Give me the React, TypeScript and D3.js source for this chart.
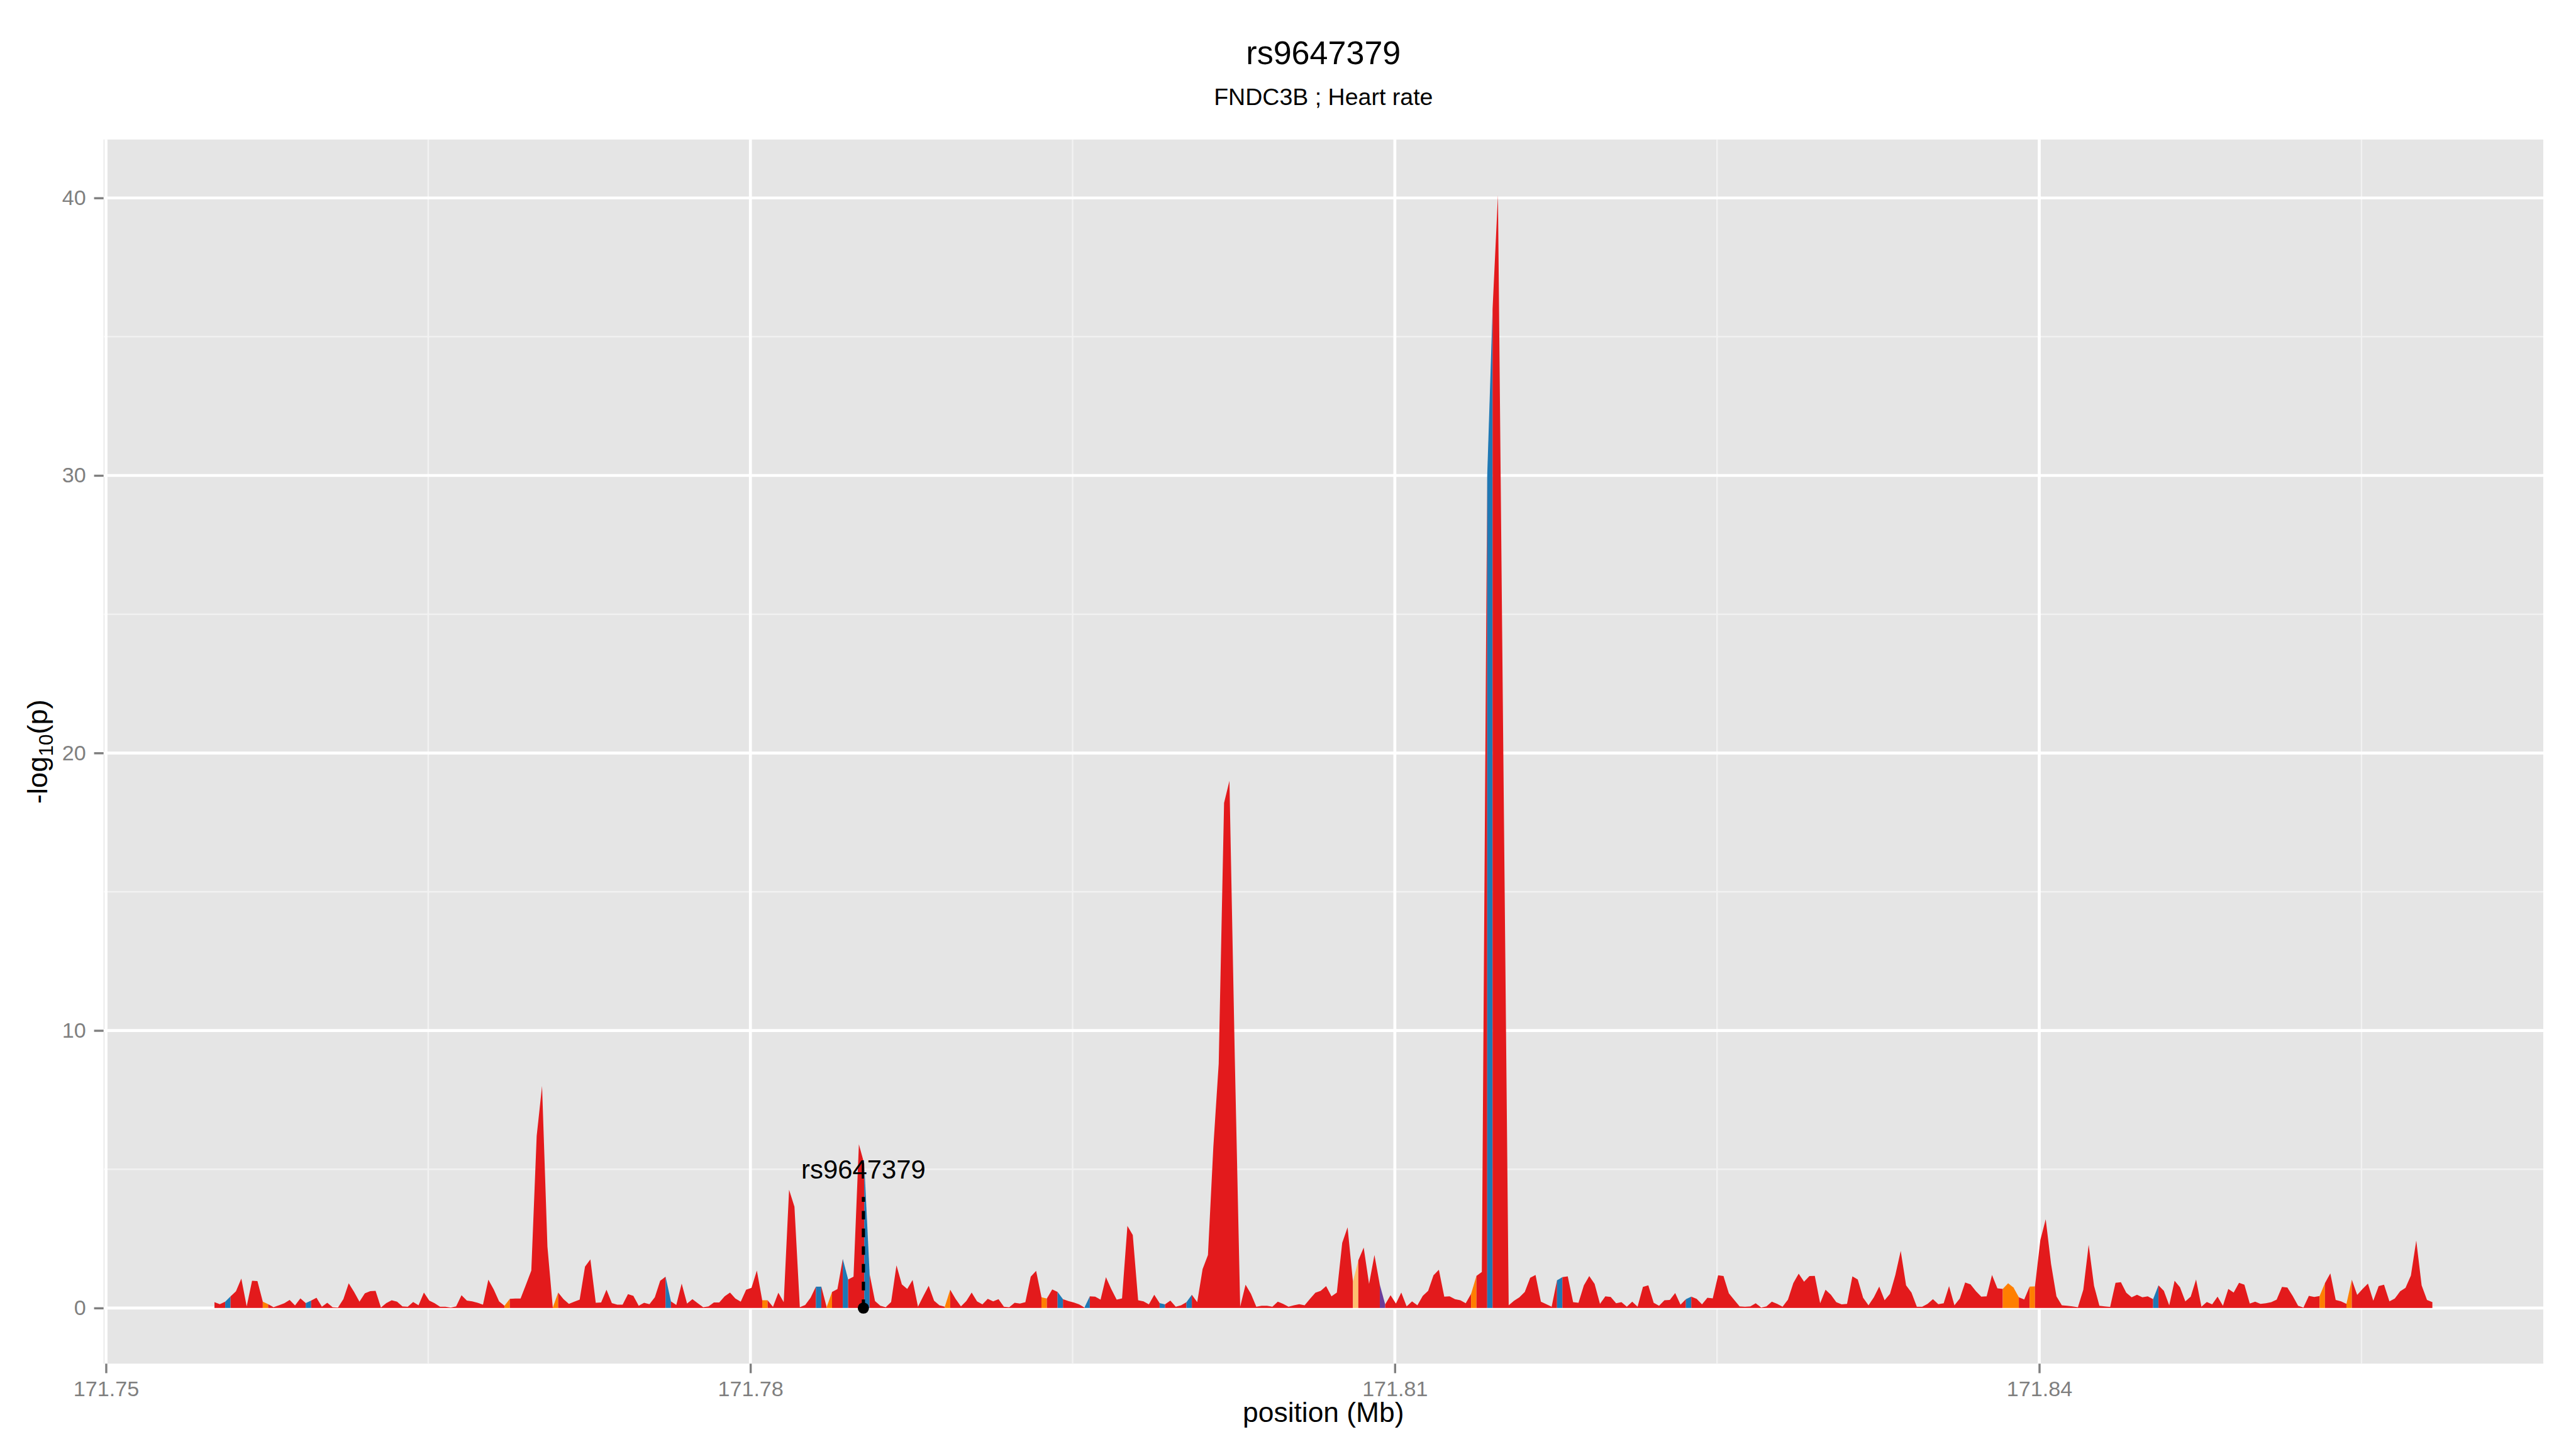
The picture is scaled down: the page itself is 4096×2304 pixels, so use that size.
import React, { useRef, useEffect } from 'react';
import * as d3 from 'd3';

// bins of 250 bp, first bin at 171.75505 Mb
const binStart = 171.75505;
const binStep = 0.00025;

// -log10(p) per bin
const values = [
  0.21, 0.14, 0.23, 0.42, 0.60, 1.06, 0.06, 0.98, 0.97, 0.23,
  0.14, 0.03, 0.10, 0.17, 0.29, 0.09, 0.35, 0.18, 0.27, 0.37,
  0.05, 0.19, 0.03, 0.02, 0.32, 0.89, 0.58, 0.23, 0.53, 0.61,
  0.62, 0.02, 0.18, 0.28, 0.23, 0.06, 0.05, 0.22, 0.10, 0.56,
  0.27, 0.17, 0.05, 0.05, 0.02, 0.06, 0.46, 0.27, 0.24, 0.19,
  0.12, 1.02, 0.67, 0.24, 0.08, 0.33, 0.34, 0.34, 0.84, 1.35,
  6.2, 8.0, 2.22, 0.02, 0.56, 0.32, 0.15, 0.23, 0.30, 1.49,
  1.75, 0.19, 0.20, 0.66, 0.18, 0.12, 0.12, 0.50, 0.44, 0.08,
  0.19, 0.14, 0.39, 0.98, 1.13, 0.24, 0.11, 0.88, 0.16, 0.32,
  0.17, 0.03, 0.06, 0.20, 0.20, 0.42, 0.56, 0.34, 0.23, 0.66,
  0.73, 1.35, 0.28, 0.28, 0.04, 0.55, 0.21, 4.26, 3.65, 0.03,
  0.11, 0.37, 0.77, 0.77, 0.03, 0.58, 0.68, 1.77, 1.03, 1.13,
  5.9, 5.2, 1.22, 0.25, 0.08, 0.03, 0.22, 1.54, 0.85, 0.69,
  1.01, 0.05, 0.43, 0.80, 0.26, 0.10, 0.05, 0.66, 0.33, 0.06,
  0.25, 0.56, 0.24, 0.13, 0.33, 0.24, 0.32, 0.05, 0.03, 0.19,
  0.16, 0.21, 1.13, 1.34, 0.39, 0.34, 0.67, 0.58, 0.32, 0.25,
  0.20, 0.13, 0.02, 0.42, 0.41, 0.30, 1.11, 0.68, 0.30, 0.35,
  2.96, 2.63, 0.28, 0.24, 0.13, 0.48, 0.18, 0.13, 0.27, 0.05,
  0.10, 0.21, 0.48, 0.21, 1.40, 1.91, 5.8, 8.8, 18.2, 19.0,
  9.0, 0.05, 0.84, 0.51, 0.05, 0.08, 0.08, 0.05, 0.23, 0.15,
  0.05, 0.10, 0.14, 0.10, 0.33, 0.55, 0.62, 0.79, 0.42, 0.56,
  2.35, 2.91, 0.95, 1.72, 2.18, 0.87, 1.91, 0.84, 0.13, 0.46,
  0.16, 0.56, 0.06, 0.24, 0.10, 0.44, 0.62, 1.18, 1.38, 0.41,
  0.42, 0.32, 0.28, 0.17, 0.51, 1.16, 1.30, 30, 36, 40.1,
  20, 0.10, 0.26, 0.39, 0.58, 1.09, 1.19, 0.23, 0.14, 0.05,
  1.00, 1.11, 1.14, 0.21, 0.19, 0.82, 1.15, 0.87, 0.15, 0.42,
  0.40, 0.17, 0.21, 0.05, 0.23, 0.05, 0.76, 0.82, 0.19, 0.08,
  0.28, 0.29, 0.54, 0.12, 0.32, 0.41, 0.33, 0.13, 0.37, 0.35,
  1.18, 1.15, 0.53, 0.29, 0.06, 0.05, 0.06, 0.17, 0.02, 0.06,
  0.23, 0.15, 0.05, 0.30, 0.90, 1.24, 0.95, 1.15, 1.16, 0.17,
  0.66, 0.48, 0.21, 0.13, 0.15, 1.14, 1.03, 0.37, 0.10, 0.39,
  0.77, 0.28, 0.51, 1.19, 2.06, 0.82, 0.56, 0.05, 0.05, 0.15,
  0.32, 0.14, 0.17, 0.79, 0.10, 0.34, 0.92, 0.85, 0.61, 0.41,
  0.42, 1.19, 0.71, 0.69, 0.89, 0.74, 0.39, 0.31, 0.77, 0.78,
  2.45, 3.20, 1.58, 0.42, 0.10, 0.08, 0.06, 0.03, 0.66, 2.28,
  0.80, 0.08, 0.06, 0.04, 0.91, 0.93, 0.55, 0.39, 0.48, 0.39,
  0.42, 0.32, 0.82, 0.62, 0.10, 0.98, 0.75, 0.24, 0.41, 1.03,
  0.05, 0.22, 0.13, 0.41, 0.08, 0.69, 0.56, 0.91, 0.84, 0.16,
  0.23, 0.15, 0.17, 0.21, 0.30, 0.76, 0.74, 0.43, 0.08, 0.02,
  0.44, 0.40, 0.43, 0.90, 1.25, 0.29, 0.24, 0.15, 1.02, 0.47,
  0.69, 0.88, 0.26, 0.79, 0.84, 0.24, 0.34, 0.60, 0.73, 1.17,
  2.43, 0.82, 0.29, 0.21
];

// which bins (interval i -> i+1) are not red
const blueBins = [2, 17, 84, 112, 117, 121, 157, 162, 176, 181, 237, 250, 274, 361];
const orangeBins = [9, 54, 63, 102, 114, 136, 154, 234, 333, 334, 335, 338, 392, 397];
const lightOrangeBins = [212];
const purpleBins = [217];

const colors: Record<string, string> = {
  red: '#E31A1C',
  blue: '#1F78B4',
  orange: '#FF7F00',
  lightOrange: '#FDBF6F',
  purple: '#6A3D9A'
};

const xTicks = [171.75, 171.78, 171.81, 171.84];
const xMinor = [171.765, 171.795, 171.825, 171.855];
const yTicks = [0, 10, 20, 30, 40];
const yMinor = [5, 15, 25, 35];

const title = 'rs9647379';
const subtitle = 'FNDC3B ; Heart rate';
const snpName = 'rs9647379';
const snpPos = 171.78526;
const snpLineTop = 4;
const snpLabelY = 5;

const font = '"Liberation Sans", Arial, Helvetica, sans-serif';

const Chart = () => {
  const ref = useRef<HTMLDivElement>(null);

  useEffect(() => {
    var W = 4800, H = 2700;
    var left = 193, right = 4739, top = 260, bottom = 2541;

    d3.select(ref.current).select('svg').remove();
    var svg = d3.select(ref.current).append('svg')
      .attr('width', 4096).attr('height', 2304)
      .attr('viewBox', `0 0 ${W} ${H}`)
      .style('display', 'block')
      .style('background', '#ffffff')
      .style('font-family', font);

    var positions = values.map((v, i) => binStart + i * binStep);
    var ext = d3.extent(positions) as [number, number];
    var padX = (ext[1] - ext[0]) * 0.05;
    var yMax = d3.max(values) as number;

    var x = d3.scaleLinear().domain([ext[0] - padX, ext[1] + padX]).range([left, right]);
    var y = d3.scaleLinear().domain([-0.05 * yMax, 1.05 * yMax]).range([bottom, top]);

    // panel
    svg.append('rect').attr('x', left).attr('y', top)
      .attr('width', right - left).attr('height', bottom - top).attr('fill', '#E5E5E5');

    var grid = svg.append('g');
    grid.selectAll('.vmin').data(xMinor).enter().append('line')
      .attr('x1', d => x(d)).attr('x2', d => x(d)).attr('y1', top).attr('y2', bottom)
      .attr('stroke', '#F2F2F2').attr('stroke-width', 2.8);
    grid.selectAll('.hmin').data(yMinor).enter().append('line')
      .attr('x1', left).attr('x2', right).attr('y1', d => y(d)).attr('y2', d => y(d))
      .attr('stroke', '#F2F2F2').attr('stroke-width', 2.8);
    grid.selectAll('.vmaj').data(xTicks).enter().append('line')
      .attr('x1', d => x(d)).attr('x2', d => x(d)).attr('y1', top).attr('y2', bottom)
      .attr('stroke', '#ffffff').attr('stroke-width', 5.5);
    grid.selectAll('.hmaj').data(yTicks).enter().append('line')
      .attr('x1', left).attr('x2', right).attr('y1', d => y(d)).attr('y2', d => y(d))
      .attr('stroke', '#ffffff').attr('stroke-width', 5.5);

    // colour of each interval, then merge into runs
    var cat = d3.range(values.length - 1).map(i =>
      blueBins.includes(i) ? 'blue'
        : orangeBins.includes(i) ? 'orange'
        : lightOrangeBins.includes(i) ? 'lightOrange'
        : purpleBins.includes(i) ? 'purple' : 'red');
    var runs: { a: number, b: number, c: string }[] = [];
    cat.forEach((c, i) => {
      var last = runs[runs.length - 1];
      if (last && last.c === c) last.b = i + 1;
      else runs.push({ a: i, b: i + 1, c: c });
    });

    var area = d3.area<number>()
      .x(i => x(positions[i]))
      .y0(y(0))
      .y1(i => y(values[i]));

    svg.append('g').selectAll('path').data(runs).enter().append('path')
      .attr('d', r => area(d3.range(r.a, r.b + 1)))
      .attr('fill', r => colors[r.c]);

    // highlighted snp
    svg.append('line')
      .attr('x1', x(snpPos)).attr('x2', x(snpPos))
      .attr('y1', y(0)).attr('y2', y(snpLineTop))
      .attr('stroke', '#000').attr('stroke-width', 6)
      .attr('stroke-dasharray', '16 17');
    svg.append('circle').attr('cx', x(snpPos)).attr('cy', y(0)).attr('r', 10.5).attr('fill', '#000');
    svg.append('text').attr('x', x(snpPos)).attr('y', y(snpLabelY))
      .attr('dy', '0.35em').attr('text-anchor', 'middle')
      .attr('font-size', 49).attr('fill', '#000').text(snpName);

    // axes
    var xAxis = d3.axisBottom(x).tickValues(xTicks).tickSize(17.7).tickPadding(15)
      .tickFormat(d3.format('.2f'));
    var gx = svg.append('g').attr('transform', `translate(0,${bottom})`).call(xAxis);
    gx.select('.domain').remove();
    gx.attr('font-size', 40).attr('font-family', font);
    gx.selectAll('line').attr('stroke', '#7F7F7F').attr('stroke-width', 4);
    gx.selectAll('text').attr('fill', '#7F7F7F');

    var yAxis = d3.axisLeft(y).tickValues(yTicks).tickSize(17.7).tickPadding(15);
    var gy = svg.append('g').attr('transform', `translate(${left},0)`).call(yAxis);
    gy.select('.domain').remove();
    gy.attr('font-size', 40).attr('font-family', font);
    gy.selectAll('line').attr('stroke', '#7F7F7F').attr('stroke-width', 4);
    gy.selectAll('text').attr('fill', '#7F7F7F');

    // titles
    var cx = (left + right) / 2;
    svg.append('text').attr('x', cx).attr('y', 119).attr('text-anchor', 'middle')
      .attr('font-size', 61).attr('fill', '#000').text(title);
    svg.append('text').attr('x', cx).attr('y', 196).attr('text-anchor', 'middle')
      .attr('font-size', 44).attr('fill', '#000').text(subtitle);
    svg.append('text').attr('x', cx).attr('y', 2650).attr('text-anchor', 'middle')
      .attr('font-size', 52).attr('fill', '#000').text('position (Mb)');

    var yl = svg.append('text')
      .attr('transform', `translate(88,${(top + bottom) / 2}) rotate(-90)`)
      .attr('text-anchor', 'middle').attr('font-size', 53).attr('fill', '#000');
    yl.append('tspan').text('-log');
    yl.append('tspan').attr('font-size', 37).attr('dy', 11).text('10');
    yl.append('tspan').attr('dy', -11).text('(p)');
  }, []);

  return <div ref={ref} style={{ position: 'absolute', left: 0, top: 0 }} />;
};

export default function App() {
  return <Chart />;
}
